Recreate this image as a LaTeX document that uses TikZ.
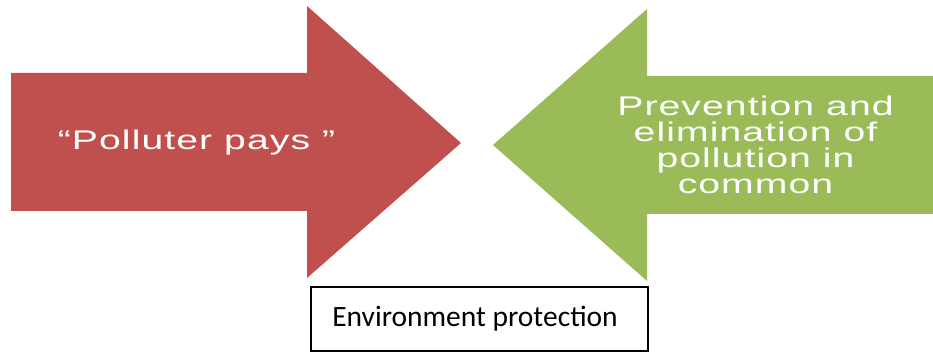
\documentclass[tikz,border=0pt]{standalone}
\usepackage{fontspec}
\setmainfont{Carlito}
\newfontfamily\widesans[FakeStretch=1.45,LetterSpace=4]{Liberation Sans}
\definecolor{arrred}{HTML}{C0504D}
\definecolor{arrgreen}{HTML}{9BBB59}
\tikzset{
  arrtext/.style={text=white, font=\widesans\fontsize{27}{26.2}\selectfont, inner sep=0pt},
  envbox/.style={draw=black, line width=2pt, minimum width=337pt, minimum height=64pt, inner sep=0pt, font=\fontsize{29.5}{32}\selectfont}
}
\begin{document}
\begin{tikzpicture}[x=1pt,y=-1pt]
\useasboundingbox (0,0) rectangle (933,352);
\fill[arrred] (11,73) -- (307,73) -- (307,6) -- (461,143) -- (307,278) -- (307,211) -- (11,211) -- cycle;
\fill[arrgreen] (933,76) -- (647,76) -- (647,9) -- (493,145) -- (647,281) -- (647,214) -- (933,214) -- cycle;
\node[arrtext] (pp) at (196.5,143) {“Polluter pays ”};
\node[arrtext, align=center] (prev) at (755.5,145) {Prevention and\\elimination of\\pollution in\\common};
\node[envbox] (env) at (479.5,319) {Environment protection\hspace*{9pt}};
\end{tikzpicture}
\end{document}
